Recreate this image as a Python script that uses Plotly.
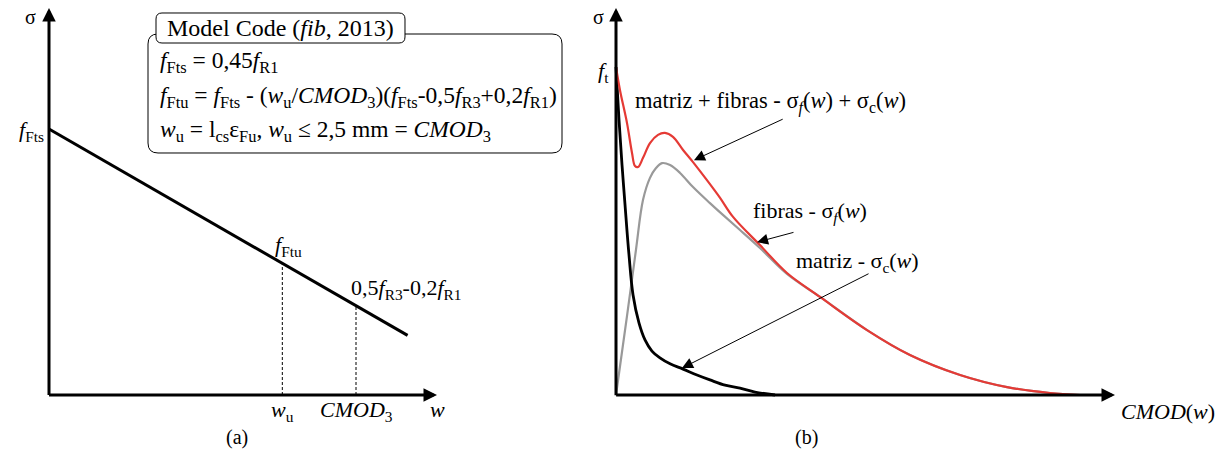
import plotly.graph_objects as go

W, H = 1225, 455
FONT = "Liberation Serif"
FS = 22
FS_BOX = 23.5

# ---------- panel (a): Model Code linear softening law ----------
f_fts = 1.0          # normalised residual strength at w = 0
w_u = 1.9            # ultimate crack opening
cmod_3 = 2.5         # CMOD_3 (mm)
f_ftu = 0.495        # stress at w_u
f_cmod3 = 0.335      # 0,5 fR3 - 0,2 fR1
w_end = 2.92         # end of the plotted branch
f_end = 0.224

line_w = [0.0, w_end]
line_sigma = [f_fts, f_end]

# ---------- panel (b): matrix + fibre contributions ----------
red_w = [0.000, 0.034, 0.095, 0.138, 0.164, 0.190, 0.233, 0.293, 0.362, 0.422,
         0.491, 0.578, 0.664, 0.784, 0.897, 1.009, 1.241, 1.474, 1.759, 2.164,
         2.534, 2.966, 3.371, 3.741, 4.000]
red_s = [1.000, 0.930, 0.829, 0.738, 0.698, 0.695, 0.723, 0.768, 0.793, 0.799,
         0.787, 0.747, 0.710, 0.655, 0.601, 0.543, 0.457, 0.372, 0.299, 0.198,
         0.122, 0.061, 0.024, 0.006, 0.000]

gray_w = [0.000, 0.095, 0.172, 0.233, 0.293, 0.345, 0.397, 0.466, 0.552, 0.664,
          0.810, 0.922, 1.069, 1.241, 1.474, 1.759, 2.164, 2.534, 2.966, 3.371,
          3.741, 4.000]
gray_s = [0.000, 0.241, 0.442, 0.595, 0.662, 0.692, 0.707, 0.701, 0.677, 0.634,
          0.585, 0.549, 0.503, 0.448, 0.369, 0.299, 0.198, 0.122, 0.061, 0.024,
          0.006, 0.000]

black_w = [0.000, 0.026, 0.052, 0.078, 0.112, 0.147, 0.198, 0.250, 0.310, 0.379,
           0.466, 0.578, 0.698, 0.810, 0.940, 1.069, 1.198, 1.371]
black_s = [1.000, 0.838, 0.701, 0.579, 0.427, 0.305, 0.220, 0.168, 0.134, 0.113,
           0.095, 0.079, 0.061, 0.046, 0.030, 0.021, 0.009, 0.000]

RED = "#e53a35"
GRAY = "#999999"

# axis geometry (pixel layout of each panel)
SPLIT = 600
A_X0, A_PXU = 49, 122.8      # origin x pixel, pixels per unit (panel a)
A_Y0, A_PYU = 395, 266
B_X0, B_PXU = 616, 116
B_Y0, B_PYU = 395, 328


def ax_range(origin_px, px_per_unit, lo_px, hi_px):
    return [(lo_px - origin_px) / px_per_unit, (hi_px - origin_px) / px_per_unit]


xa_range = ax_range(A_X0, A_PXU, 0, SPLIT)
ya_range = [-(H - A_Y0) / A_PYU, A_Y0 / A_PYU]
xb_range = ax_range(B_X0, B_PXU, SPLIT, W)
yb_range = [-(H - B_Y0) / B_PYU, B_Y0 / B_PYU]

fig = go.Figure()

# panel (a)
for wx, sy in [(w_u, f_ftu), (cmod_3, f_cmod3)]:
    fig.add_trace(go.Scatter(x=[wx, wx], y=[0, sy], mode="lines",
                             line=dict(color="black", width=1, dash="3px,2px"),
                             xaxis="x", yaxis="y", hoverinfo="skip"))
fig.add_trace(go.Scatter(x=line_w, y=line_sigma, mode="lines",
                         line=dict(color="black", width=3),
                         xaxis="x", yaxis="y", hoverinfo="skip"))

# panel (b)
fig.add_trace(go.Scatter(x=gray_w, y=gray_s, mode="lines", line_shape="spline",
                         line=dict(color=GRAY, width=2.2),
                         xaxis="x2", yaxis="y2", hoverinfo="skip"))
fig.add_trace(go.Scatter(x=black_w, y=black_s, mode="lines", line_shape="spline",
                         line=dict(color="black", width=2.8),
                         xaxis="x2", yaxis="y2", hoverinfo="skip"))
fig.add_trace(go.Scatter(x=red_w, y=red_s, mode="lines", line_shape="spline",
                         line=dict(color=RED, width=2.2),
                         xaxis="x2", yaxis="y2", hoverinfo="skip"))

ann = []


def axis_arrow(xr, yr, x, y, ax, ay):
    ann.append(dict(xref=xr, yref=yr, axref=xr, ayref=yr, x=x, y=y, ax=ax, ay=ay,
                    text="", showarrow=True, arrowhead=2, arrowsize=0.9,
                    arrowwidth=3, arrowcolor="black", standoff=0))


def pointer(xr, yr, x, y, ax, ay):
    ann.append(dict(xref=xr, yref=yr, axref=xr, ayref=yr, x=x, y=y, ax=ax, ay=ay,
                    text="", showarrow=True, arrowhead=2, arrowsize=2.2,
                    arrowwidth=1, arrowcolor="black", standoff=0))


def label(text, x, y, xr="paper", yr="paper", xa="left", ya="middle", size=FS, **kw):
    ann.append(dict(xref=xr, yref=yr, x=x, y=y, text=text, showarrow=False,
                    xanchor=xa, yanchor=ya, font=dict(family=FONT, size=size, color="black"),
                    **kw))


def P(px, py):
    return px / W, 1 - py / H


# axes with arrowheads
axis_arrow("x", "y", 0, (A_Y0 - 8) / A_PYU, 0, -0.006)
axis_arrow("x", "y", (437 - A_X0) / A_PXU, 0, -0.012, 0)
axis_arrow("x2", "y2", 0, (B_Y0 - 8) / B_PYU, 0, -0.005)
axis_arrow("x2", "y2", (1115 - B_X0) / B_PXU, 0, -0.012, 0)

# pointer arrows of panel (b)
pointer("x2", "y2", 0.672, 0.716, 1.450, 0.843)
pointer("x2", "y2", 1.216, 0.466, 1.543, 0.497)
pointer("x2", "y2", 0.569, 0.082, 2.190, 0.372)

# panel (a) texts
label("σ", *P(30, 17), xa="center", size=20)
label("<i>f</i><sub>Fts</sub>", *P(46, 131), xa="right")
label("<i>f</i><sub>Ftu</sub>", w_u, f_ftu, "x", "y", xa="left", ya="bottom", xshift=-9, yshift=1)
label("0,5<i>f</i><sub>R3</sub>-0,2<i>f</i><sub>R1</sub>", cmod_3, f_cmod3, "x", "y",
      xa="left", ya="bottom", xshift=-7, yshift=1)
label("<i>w</i><sub>u</sub>", w_u, 0, "x", "y", xa="center", ya="top", yshift=0)
label("<i>CMOD</i><sub>3</sub>", cmod_3, 0, "x", "y", xa="center", ya="top", yshift=0)
label("<i>w</i>", (437 - A_X0) / A_PXU, 0, "x", "y", xa="center", ya="top", yshift=0)
label("(a)", *P(237, 437), xa="center", size=20)

# Model Code box
label("<i>f</i><sub>Fts</sub> = 0,45<i>f</i><sub>R1</sub>", *P(158, 62), size=FS_BOX)
label("<i>f</i><sub>Ftu</sub> = <i>f</i><sub>Fts</sub> - (<i>w</i><sub>u</sub>/<i>CMOD</i><sub>3</sub>)"
      "(<i>f</i><sub>Fts</sub>-0,5<i>f</i><sub>R3</sub>+0,2<i>f</i><sub>R1</sub>)", *P(158, 97),
      size=FS_BOX)
label("<i>w</i><sub>u</sub> = l<sub>cs</sub>ε<sub>Fu</sub>, <i>w</i><sub>u</sub> ≤ 2,5 mm = "
      "<i>CMOD</i><sub>3</sub>", *P(158, 131), size=FS_BOX)
label("Model Code (<i>fib</i>, 2013)", *P(280, 28), xa="center", size=24)

# panel (b) texts
label("σ", *P(598, 17), xa="center", size=20)
label("<i>f</i><sub>t</sub>", *P(611, 72), xa="right")
label("matriz + fibras - σ<sub><i>f</i></sub>(<i>w</i>) + σ<sub>c</sub>(<i>w</i>)", *P(633, 103),
      size=22.5)
label("fibras - σ<sub><i>f</i></sub>(<i>w</i>)", *P(751, 212))
label("matriz - σ<sub>c</sub>(<i>w</i>)", *P(794, 262))
label("<i>CMOD</i>(<i>w</i>)", *P(1119, 411))
label("(b)", *P(806, 437), xa="center", size=20)


def rounded_rect(x0, y0, x1, y1, r):
    def p(px, py):
        return f"{px / W:.5f},{1 - py / H:.5f}"
    return (f"M {p(x0 + r, y0)} L {p(x1 - r, y0)} Q {p(x1, y0)} {p(x1, y0 + r)} "
            f"L {p(x1, y1 - r)} Q {p(x1, y1)} {p(x1 - r, y1)} "
            f"L {p(x0 + r, y1)} Q {p(x0, y1)} {p(x0, y1 - r)} "
            f"L {p(x0, y0 + r)} Q {p(x0, y0)} {p(x0 + r, y0)} Z")


shapes = [
    dict(type="path", xref="paper", yref="paper", path=rounded_rect(148, 34, 562, 153, 10),
         line=dict(color="black", width=1), fillcolor="white", layer="below"),
    dict(type="path", xref="paper", yref="paper", path=rounded_rect(156, 13, 405, 43, 6),
         line=dict(color="black", width=1), fillcolor="white", layer="below"),
]

fig.update_layout(
    width=W, height=H, margin=dict(l=0, r=0, t=0, b=0),
    paper_bgcolor="white", plot_bgcolor="rgba(0,0,0,0)",
    showlegend=False,
    xaxis=dict(domain=[0, SPLIT / W], range=xa_range, visible=False, fixedrange=True),
    yaxis=dict(domain=[0, 1], range=ya_range, visible=False, fixedrange=True),
    xaxis2=dict(domain=[SPLIT / W, 1], range=xb_range, visible=False, anchor="y2", fixedrange=True),
    yaxis2=dict(domain=[0, 1], range=yb_range, visible=False, anchor="x2", fixedrange=True),
    annotations=ann, shapes=shapes,
)

fig.write_html("out.html")
